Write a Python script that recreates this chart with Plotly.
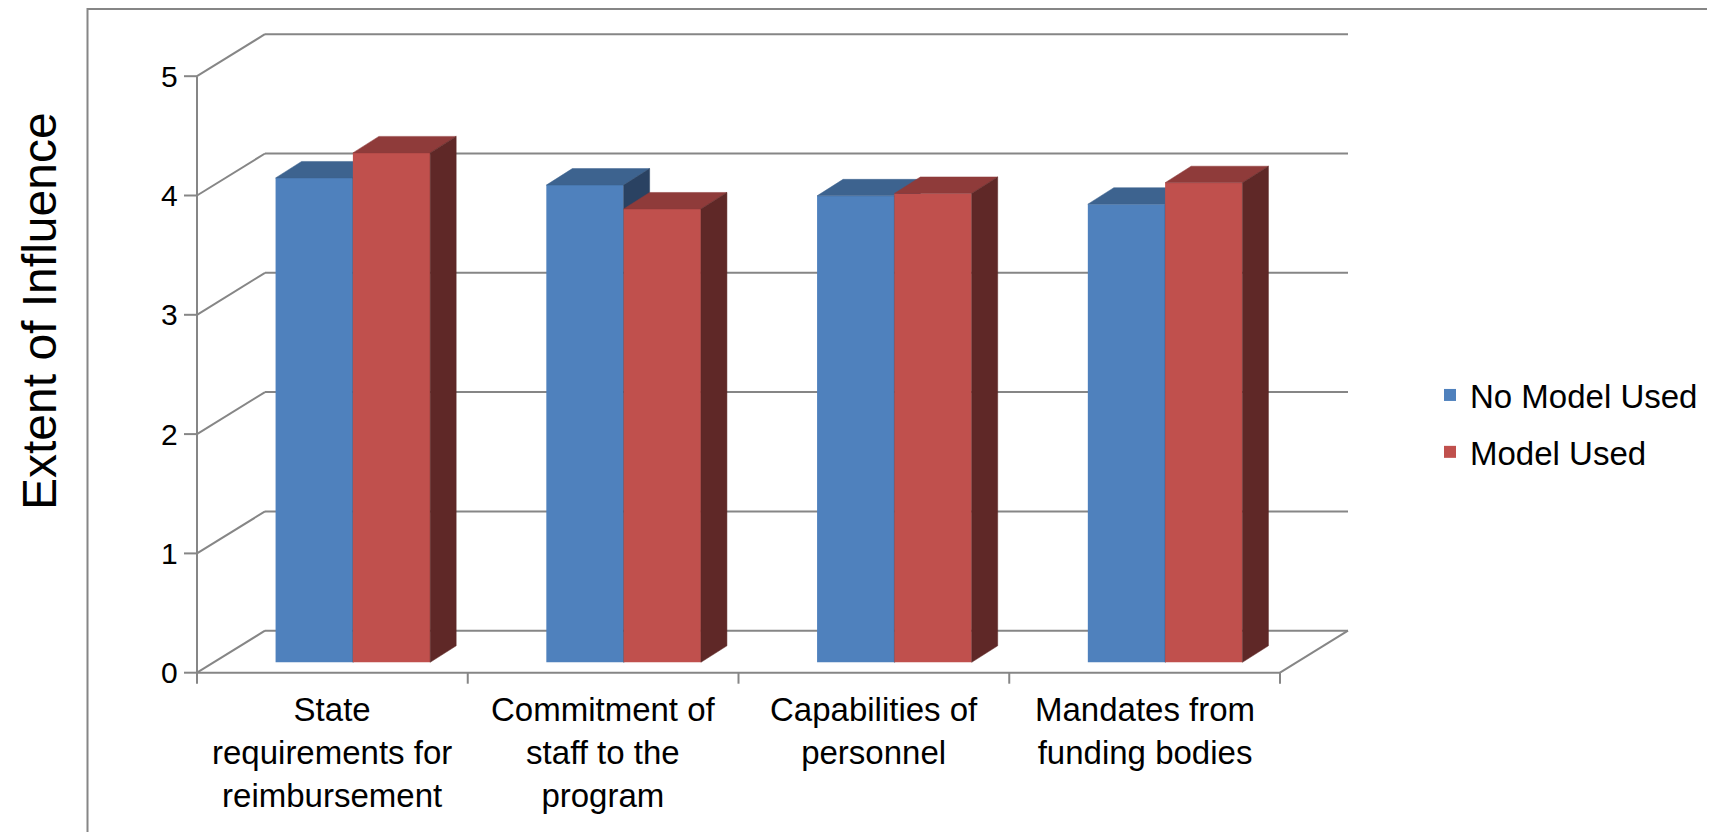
import plotly.graph_objects as go

# ---------------- data ----------------
categories = [
    "State<br>requirements for<br>reimbursement",
    "Commitment of<br>staff to the<br>program",
    "Capabilities of<br>personnel",
    "Mandates from<br>funding bodies",
]
no_model_used = [4.06, 4.00, 3.91, 3.84]
model_used = [4.27, 3.80, 3.93, 4.02]
y_ticks = [0, 1, 2, 3, 4, 5]
y_tick_labels = ["0", "1", "2", "3", "4", "5"]
series_names = ["No Model Used", "Model Used"]

# ---------------- styling / projection ----------------
OFF = 8                      # page body margin
W, H = 1715 - OFF, 832 - OFF
PX_X = 270.75                # pixels per category
PX_Y = 119.3                 # pixels per value unit
X0_PX, Y0_PX = 197.0 - OFF, 672.7 - OFF
FLOOR_DX, FLOOR_DY = 68 / PX_X, 42 / PX_Y
BAR_OFF_X = 20.5 / PX_X
BAR_BASE = 10.4 / PX_Y
BAR_W = 77.3 / PX_X
BAR_DX, BAR_DY = 26 / PX_X, 16.5 / PX_Y
GRID = "#868686"
FONT = "Liberation Sans, Arial, sans-serif"

BLUE = dict(front="#4F81BD", top="#3D638F", side="#2A4262")
RED = dict(front="#C0504D", top="#8F3B3A", side="#5F2827")

xr = [-X0_PX / PX_X, (W - X0_PX) / PX_X]
yr = [-(H - Y0_PX) / PX_Y, Y0_PX / PX_Y]


def px_x(p):
    return (p - OFF) / W


def px_y(p):
    return (H - (p - OFF)) / H


fig = go.Figure()


def add_series(values, colors, sign, name, xa, ya):
    xs = [i + 0.5 + BAR_OFF_X + sign * BAR_W / 2 for i in range(len(values))]
    for xc, v in zip(xs, values):
        xl, xrt = xc - BAR_W / 2, xc + BAR_W / 2
        yt = BAR_BASE + v
        fig.add_trace(go.Scatter(
            x=[xl, xl + BAR_DX, xrt + BAR_DX, xrt, xl],
            y=[yt, yt + BAR_DY, yt + BAR_DY, yt, yt],
            fill="toself", fillcolor=colors["top"], mode="lines",
            line=dict(width=0.5, color=colors["top"]), hoverinfo="skip",
            showlegend=False, xaxis=xa, yaxis=ya))
        fig.add_trace(go.Scatter(
            x=[xrt, xrt + BAR_DX, xrt + BAR_DX, xrt, xrt],
            y=[BAR_BASE, BAR_BASE + BAR_DY, yt + BAR_DY, yt, BAR_BASE],
            fill="toself", fillcolor=colors["side"], mode="lines",
            line=dict(width=0.5, color=colors["side"]), hoverinfo="skip",
            showlegend=False, xaxis=xa, yaxis=ya))
    fig.add_trace(go.Bar(
        x=xs, y=values, base=BAR_BASE, width=BAR_W, name=name,
        marker=dict(color=colors["front"], line=dict(width=0)),
        legendgroup=name, xaxis=xa, yaxis=ya, hoverinfo="skip"))


add_series(no_model_used, BLUE, -1, series_names[0], "x", "y")
add_series(model_used, RED, +1, series_names[1], "x2", "y2")

n = len(categories)
shapes = []
line = dict(color=GRID, width=2)
for v in y_ticks:
    shapes.append(dict(type="line", xref="x", yref="y", x0=FLOOR_DX, x1=n + FLOOR_DX,
                       y0=v + FLOOR_DY, y1=v + FLOOR_DY, line=line, layer="below"))
    shapes.append(dict(type="line", xref="x", yref="y", x0=0, x1=FLOOR_DX,
                       y0=v, y1=v + FLOOR_DY, line=line, layer="below"))
    shapes.append(dict(type="line", xref="x", yref="y", x0=-13 / PX_X, x1=0,
                       y0=v, y1=v, line=line, layer="below"))
shapes.append(dict(type="line", xref="x", yref="y", x0=0, x1=0, y0=0, y1=max(y_ticks),
                   line=line, layer="below"))
shapes.append(dict(type="line", xref="x", yref="y", x0=0, x1=n, y0=0, y1=0,
                   line=line, layer="below"))
shapes.append(dict(type="line", xref="x", yref="y", x0=n, x1=n + FLOOR_DX, y0=0, y1=FLOOR_DY,
                   line=line, layer="below"))
for i in range(n + 1):
    shapes.append(dict(type="line", xref="x", yref="y", x0=i, x1=i, y0=0, y1=-11 / PX_Y,
                       line=line, layer="below"))
shapes.append(dict(type="rect", xref="paper", yref="paper", x0=px_x(87.5), x1=1.05,
                   y0=-0.05, y1=px_y(9), line=line, layer="below"))

annotations = []
for v, lab in zip(y_ticks, y_tick_labels):
    annotations.append(dict(x=-17 / PX_X, y=v, xref="x", yref="y", text=lab, showarrow=False,
                            xanchor="right", yanchor="middle",
                            font=dict(size=30, color="black", family=FONT)))
for i, c in enumerate(categories):
    annotations.append(dict(x=i + 0.5, y=-16 / PX_Y, xref="x", yref="y", text=c, showarrow=False,
                            xanchor="center", yanchor="top", align="center",
                            font=dict(size=33, color="black", family=FONT)))
annotations.append(dict(x=px_x(39), y=px_y(311), xref="paper", yref="paper",
                        text="Extent of Influence", textangle=-90, showarrow=False,
                        xanchor="center", yanchor="middle",
                        font=dict(size=48, color="black", family=FONT)))

axis_common = dict(visible=False, showgrid=False, zeroline=False, fixedrange=True)
fig.update_layout(
    width=W, height=H,
    margin=dict(l=0, r=0, t=0, b=0),
    paper_bgcolor="white", plot_bgcolor="white",
    barmode="overlay",
    xaxis=dict(range=xr, domain=[0, 1], **axis_common),
    yaxis=dict(range=yr, domain=[0, 1], **axis_common),
    xaxis2=dict(range=xr, overlaying="x", **axis_common),
    yaxis2=dict(range=yr, overlaying="y", **axis_common),
    shapes=shapes,
    annotations=annotations,
    showlegend=True,
    legend=dict(x=px_x(1430), y=px_y(367), xanchor="left", yanchor="top",
                traceorder="grouped", tracegroupgap=11,
                font=dict(size=33, color="black", family=FONT),
                bgcolor="rgba(0,0,0,0)"),
)

fig.write_html("out.html")
